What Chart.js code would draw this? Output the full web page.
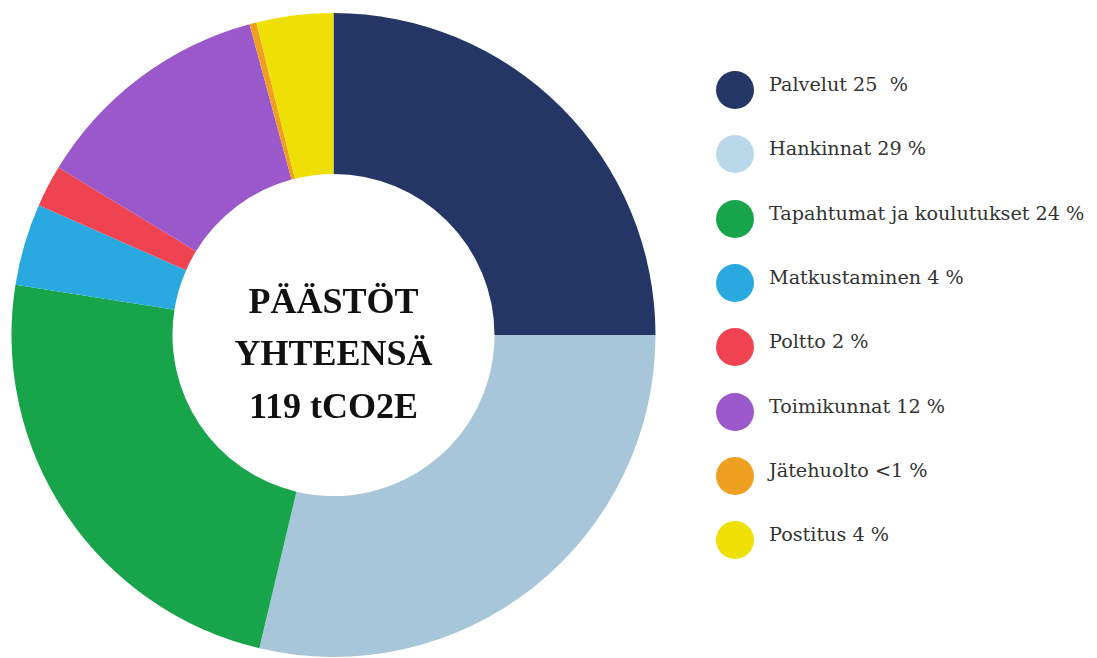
<!DOCTYPE html>
<html>
<head>
<meta charset="utf-8">
<script src="https://cdn.jsdelivr.net/npm/chart.js@4"></script>
<style>
    body { margin: 0; background: #ffffff; }
    #wrap { position: relative; width: 1097px; height: 658px; }
    #chartBox { position: absolute; left: 0; top: 0; width: 667px; height: 658px; }
    #legenda { position: absolute; left: 716px; top: 71px; font-family: "DejaVu Serif", serif; font-size: 19.2px; color: #333333; }
    .item { height: 64.3px; display: flex; align-items: flex-start; }
    .pallo { width: 38px; height: 38px; border-radius: 50%; flex: none; }
    .teksti { margin-left: 15px; line-height: 38px; white-space: pre; margin-top: -5px; }
</style>
</head>
<body>
<div id="wrap">
    <div id="chartBox"><canvas id="myChart"></canvas></div>
    <div id="legenda"></div>
</div>
<script>
// osuudet kokonaispäästöistä (%), luettu kuvasta
var kategoriat = ["Palvelut", "Hankinnat", "Tapahtumat ja koulutukset", "Matkustaminen", "Poltto", "Toimikunnat", "Jätehuolto", "Postitus"];
var osuudet = [25, 28.7, 23.8, 4.1, 2.1, 12.1, 0.35, 3.85];
var selitteet = ["Palvelut 25  %", "Hankinnat 29 %", "Tapahtumat ja koulutukset 24 %", "Matkustaminen 4 %", "Poltto 2 %", "Toimikunnat 12 %", "Jätehuolto <1 %", "Postitus 4 %"];
var keskiteksti = ["PÄÄSTÖT", "YHTEENSÄ", "119 tCO2E"];

var varit = ["#243665", "#a7c6da", "#17a44a", "#29a9e0", "#ef4352", "#9a58cb", "#f0a020", "#eee005"];
var selitevarit = ["#243665", "#b9d9eb", "#17a44a", "#29a9e0", "#ef4352", "#9a58cb", "#f0a020", "#eee005"];

var keskiTeksti = {
    id: 'keskiTeksti',
    afterDraw: function (chart) {
        var ctx = chart.ctx;
        var meta = chart.getDatasetMeta(0).data[0];
        var x = meta.x, y = meta.y;
        ctx.save();
        ctx.fillStyle = '#111111';
        ctx.font = 'bold 36px "Liberation Serif", serif';
        ctx.textAlign = 'center';
        ctx.textBaseline = 'alphabetic';
        ctx.fillText(keskiteksti[0], x, y - 22);
        ctx.fillText(keskiteksti[1], x, y + 30);
        ctx.fillText(keskiteksti[2], x, y + 83);
        ctx.restore();
    }
};

var ctx = document.getElementById('myChart');
var myChart = new Chart(ctx, {
    type: 'doughnut',
    data: {
        labels: kategoriat,
        datasets: [{
            data: osuudet,
            backgroundColor: varit,
            borderWidth: 0
        }]
    },
    options: {
        responsive: true,
        maintainAspectRatio: false,
        animation: false,
        cutout: '50%',
        layout: { padding: { top: 13, bottom: 1 } },
        plugins: {
            legend: { display: false },
            tooltip: { enabled: false }
        }
    },
    plugins: [keskiTeksti]
});

// selite
var html = '';
for (var i = 0; i < selitteet.length; i++) {
    html += '<div class="item" style="position:absolute;top:' + (i * 64.3) + 'px"><div class="pallo" style="background:' + selitevarit[i] + '"></div><div class="teksti">' + selitteet[i].replace(/</g, '&lt;') + '</div></div>';
}
document.getElementById('legenda').innerHTML = html;
</script>
</body>
</html>
